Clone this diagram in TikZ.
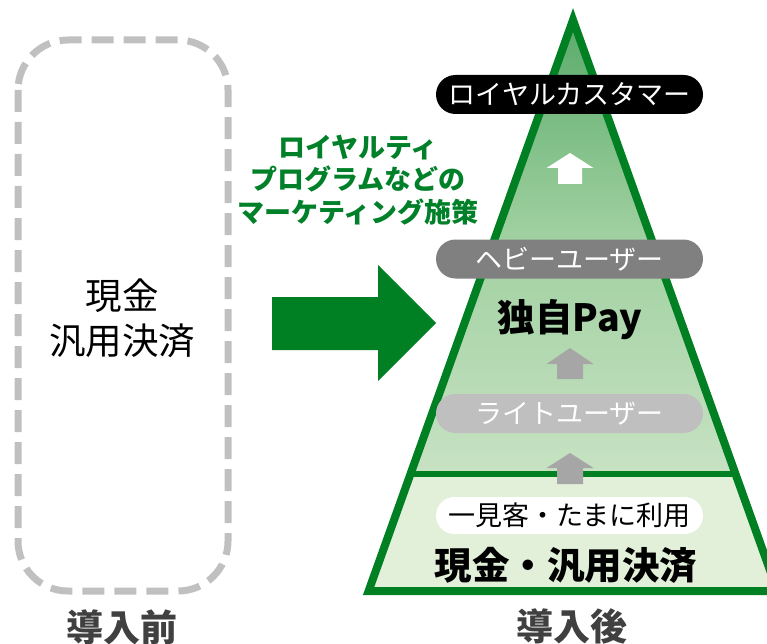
\documentclass[tikz,border=0pt]{standalone}
\usepackage{fontspec}
\setmainfont{Noto Sans CJK JP}
\newfontfamily\jp{Noto Sans CJK JP}
\definecolor{pgreen}{RGB}{0,128,35}
\definecolor{tgreen}{RGB}{0,128,40}
\definecolor{dashgray}{RGB}{192,192,192}
\definecolor{labgray}{RGB}{64,64,64}
\definecolor{heavygray}{RGB}{128,128,128}
\definecolor{lightgray2}{RGB}{191,191,191}
\definecolor{arrgray}{RGB}{166,166,166}
\definecolor{basefill}{RGB}{226,240,218}
\definecolor{sA}{RGB}{226,240,218}
\definecolor{sB}{RGB}{205,229,200}
\definecolor{sC}{RGB}{160,208,160}
\definecolor{sD}{RGB}{88,170,106}
\definecolor{sE}{RGB}{28,140,60}
\pgfdeclareverticalshading{pyrshade}{100bp}{color(0bp)=(sA); color(20.7bp)=(sB); color(51.4bp)=(sC); color(75.6bp)=(sD); color(100bp)=(sE)}
\tikzset{
  pill/.style={rounded corners=19.5pt, minimum width=267pt, minimum height=39pt, inner sep=0pt, font=\fontsize{27}{30}\selectfont},
  bigjp/.style={font=\fontsize{37.5}{44}\selectfont\bfseries, text=black, inner sep=0pt},
  caption/.style={font=\fontsize{37}{40}\selectfont\bfseries, text=labgray, inner sep=0pt},
}
\begin{document}
\begin{tikzpicture}[x=1pt,y=-1pt]
\useasboundingbox (0,0) rectangle (767,644);
% before box
\draw[dashgray, line width=7pt, dash pattern=on 22pt off 10pt, rounded corners=50pt] (18,40) rectangle (228,591);
\node[font=\fontsize{36.5}{45}\selectfont, align=center, inner sep=0pt] (before) at (122,318) {現金\\汎用決済};
\node[caption] (cap1) at (122,627) {導入前};
% green arrow
\fill[pgreen] (272,297) -- (378,297) -- (378,265) -- (436,323) -- (378,381) -- (378,350) -- (272,350) -- cycle;
\node[font=\fontsize{27}{32.5}\selectfont\bfseries, text=tgreen, align=center, inner sep=0pt] (measure) at (358,180) {ロイヤルティ\\プログラムなどの\\マーケティング施策};
% pyramid
\begin{scope}
\clip (573,20) -- (777.4,591) -- (368.6,591) -- cycle;
\shade[shading=pyrshade] (360,20) rectangle (790,474);
\fill[basefill] (360,474) rectangle (790,595);
\end{scope}
\draw[pgreen, line width=6pt] (410,474) -- (736,474);
\draw[pgreen, line width=8pt] (573,20) -- (777.4,591) -- (368.6,591) -- cycle;
% arrows
\fill[white] (570,153) -- (593.5,168) -- (582,168) -- (582,184) -- (558,184) -- (558,168) -- (546.5,168) -- cycle;
\fill[arrgray] (570,348) -- (593.5,364) -- (583,364) -- (583,379) -- (557,379) -- (557,364) -- (546.5,364) -- cycle;
\fill[arrgray] (570,453) -- (593.5,468) -- (583,468) -- (583,484) -- (557,484) -- (557,468) -- (546.5,468) -- cycle;
% pills
\node[pill, fill=black, text=white] (loyal) at (569.5,94.5) {ロイヤルカスタマー};
\node[pill, fill=heavygray, text=white] (heavy) at (569.5,259) {ヘビーユーザー};
\node[pill, fill=lightgray2, text=white] (light) at (569.5,413.5) {ライトユーザー};
\node[pill, fill=white, text=black, minimum height=37pt, rounded corners=18.5pt] (once) at (569.5,515.5) {一見客・たまに利用};
\node[bigjp] (pay) at (570,320) {独自Pay};
\node[bigjp] (cash) at (566,565) {現金・汎用決済};
\node[caption] (cap2) at (572,626) {導入後};
\end{tikzpicture}
\end{document}
